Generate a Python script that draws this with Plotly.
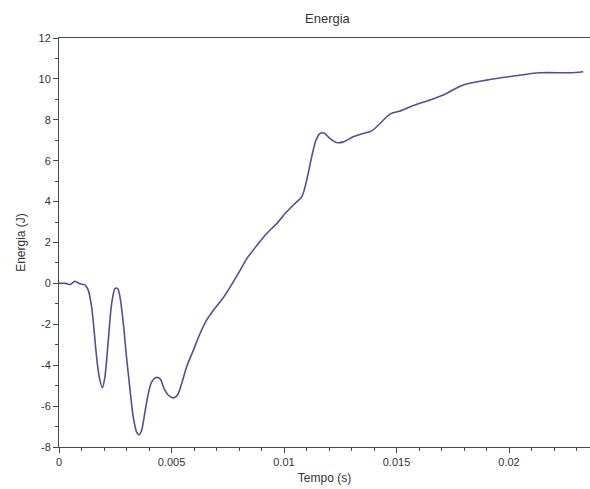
import plotly.graph_objects as go

tempo = [0, 0.0003, 0.0005, 0.00071, 0.00093, 0.00116, 0.0013, 0.00145, 0.00156, 0.00167,
         0.00179, 0.00193, 0.00204, 0.00219, 0.00234, 0.00249, 0.00261, 0.00271, 0.00286, 0.003,
         0.00316, 0.0033, 0.00345, 0.00356, 0.00367, 0.00382, 0.00397, 0.00412, 0.00431, 0.00449,
         0.00467, 0.00486, 0.00508, 0.00526, 0.00545, 0.00567, 0.00597, 0.00627, 0.00656, 0.00686,
         0.0073, 0.00768, 0.00804, 0.00834, 0.00879, 0.00923, 0.00968, 0.01012, 0.01049, 0.01079,
         0.01101, 0.01123, 0.01142, 0.0116, 0.01178, 0.01204, 0.01234, 0.01264, 0.01308, 0.01352,
         0.0139, 0.01427, 0.01471, 0.01516, 0.01575, 0.01649, 0.01708, 0.01797, 0.01901, 0.0202,
         0.02138, 0.02271, 0.0233]
energia = [0, 0, -0.05, 0.1, -0.02, -0.08, -0.33, -1.15, -2.3, -3.6,
           -4.58, -5.1, -4.58, -2.78, -0.99, -0.25, -0.25, -0.66, -1.97, -3.6,
           -5.23, -6.54, -7.27, -7.4, -7.19, -6.29, -5.39, -4.82, -4.6, -4.66,
           -5.15, -5.47, -5.6, -5.47, -4.9, -4.09, -3.27, -2.45, -1.8, -1.31,
           -0.7, -0.05, 0.62, 1.2, 1.85, 2.44, 2.93, 3.5, 3.91, 4.23,
           5.05, 6.19, 7.0, 7.33, 7.35, 7.09, 6.89, 6.92, 7.17, 7.33,
           7.46, 7.82, 8.28, 8.43, 8.7, 8.97, 9.21, 9.7, 9.94, 10.14,
           10.3, 10.3, 10.35]

x_tick_vals = [0, 0.005, 0.01, 0.015, 0.02]
x_tick_text = ["0", "0.005", "0.01", "0.015", "0.02"]
y_tick_vals = [-8, -6, -4, -2, 0, 2, 4, 6, 8, 10, 12]
y_tick_text = ["-8", "-6", "-4", "-2", "0", "2", "4", "6", "8", "10", "12"]

fig = go.Figure()
fig.add_trace(go.Scatter(
    x=tempo, y=energia, mode="lines",
    line=dict(color="#4f4f9c", width=1.6, shape="spline", smoothing=0.8),
    showlegend=False,
))

axis_common = dict(
    showline=True, linecolor="#4a4a4a", linewidth=1,
    showgrid=False, zeroline=False,
    ticks="outside", ticklen=5, tickwidth=1, tickcolor="#4a4a4a",
    tickfont=dict(family="Liberation Sans, Arial, sans-serif", size=11, color="#333333"),
)

fig.update_layout(
    width=590, height=489,
    margin=dict(l=59, r=0, t=38, b=42),
    paper_bgcolor="white", plot_bgcolor="white",
    title=dict(text="Energia", x=0.555, xanchor="center", y=0.963, yanchor="middle",
               font=dict(family="Liberation Sans, Arial, sans-serif", size=13, color="#333333")),
    xaxis=dict(
        range=[0, 0.0236], mirror=True,
        tickmode="array", tickvals=x_tick_vals, ticktext=x_tick_text,
        minor=dict(dtick=0.001, tick0=0, ticks="outside", ticklen=3, tickcolor="#4a4a4a", showgrid=False),
        title=dict(text="Tempo (s)", standoff=6,
                   font=dict(family="Liberation Sans, Arial, sans-serif", size=12, color="#333333")),
        **axis_common,
    ),
    yaxis=dict(
        range=[-8, 12], mirror=False,
        tickmode="array", tickvals=y_tick_vals, ticktext=y_tick_text,
        minor=dict(dtick=1, tick0=0, ticks="outside", ticklen=3, tickcolor="#4a4a4a", showgrid=False),
        title=dict(text="Energia (J)", standoff=10,
                   font=dict(family="Liberation Sans, Arial, sans-serif", size=12, color="#333333")),
        **axis_common,
    ),
)

fig.write_html("out.html")
